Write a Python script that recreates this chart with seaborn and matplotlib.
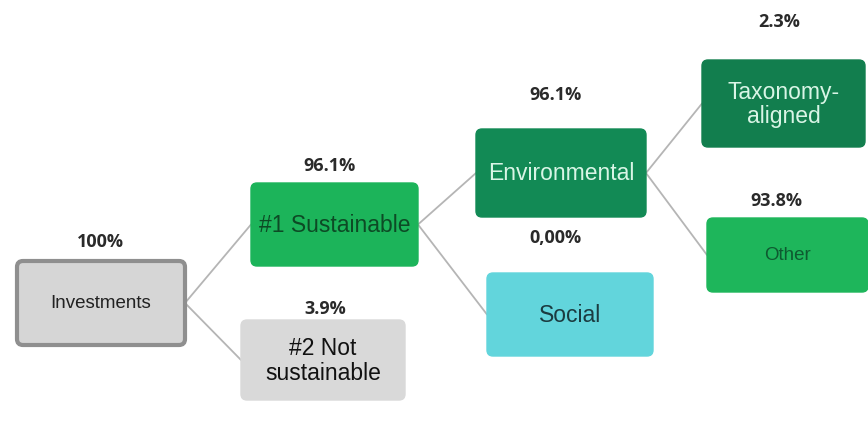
import matplotlib
matplotlib.use("Agg")
import matplotlib.pyplot as plt
import seaborn as sns
from matplotlib.patches import FancyBboxPatch

# data: tree nodes, their share of investments and parent node
nodes = ["Investments", "#1 Sustainable", "#2 Not\nsustainable",
         "Environmental", "Social", "Taxonomy-\naligned", "Other"]
shares = ["100%", "96.1%", "3.9%", "96.1%", "0,00%", "2.3%", "93.8%"]
parents = [None, 0, 0, 1, 1, 3, 3]

# layout (pixel boxes: left, top, right, bottom)
boxes = [(17, 261, 185, 345), (251, 183, 418, 266), (241, 320, 405, 400),
         (476, 129, 646, 217), (487, 273, 653, 356), (702, 60, 865, 147),
         (707, 218, 868, 292)]
fills = ["#d6d6d6", "#1cb45a", "#d9d9d9", "#128a55", "#62d5dc", "#127e4e", "#1eb65b"]
edges = ["#8f8f8f", "#1cb45a", "#d9d9d9", "#128a55", "#62d5dc", "#127e4e", "#1eb65b"]
text_colors = ["#222222", "#0d4a25", "#111111", "#d9f5e6", "#1b3b40", "#d9f5e6", "#0e5a30"]
font_sizes = [13.5, 16.5, 16.5, 16.5, 16.5, 16.5, 13.5]
share_pos = [(100, 242), (330, 166), (325, 309), (555, 95), (555, 238), (779, 22), (776, 201)]

sns.set_theme(style="white")
plt.rcParams["font.family"] = ["Liberation Sans", "DejaVu Sans"]

fig = plt.figure(figsize=(8.68, 4.22), dpi=100)
ax = fig.add_axes([0, 0, 1, 1])
ax.set_xlim(0, 868)
ax.set_ylim(422, 0)
ax.axis("off")

# connectors
for i, p in enumerate(parents):
    if p is None:
        continue
    pl, pt, pr, pb = boxes[p]
    cl, ct, cr, cb = boxes[i]
    ax.plot([pr, cl], [(pt + pb) / 2, (ct + cb) / 2], color="#b5b5b5", lw=1.3, zorder=1)

for i, name in enumerate(nodes):
    l, t, r, b = boxes[i]
    lw = 3 if i == 0 else 1
    patch = FancyBboxPatch((l + 4, t + 4), r - l - 8, b - t - 8,
                           boxstyle="round,pad=4,rounding_size=6",
                           fc=fills[i], ec=edges[i], lw=lw, zorder=2)
    ax.add_patch(patch)
    ax.text((l + r) / 2, (t + b) / 2 + 1, name, ha="center", va="center",
            fontsize=font_sizes[i], color=text_colors[i], linespacing=1.1, zorder=3)
    sx, sy = share_pos[i]
    ax.text(sx, sy, shares[i], ha="center", va="center", fontsize=13,
            fontweight="bold", color="#2a2a2a", family=["Open Sans", "DejaVu Sans"])

fig.savefig("out.png", dpi=100, facecolor="white")
